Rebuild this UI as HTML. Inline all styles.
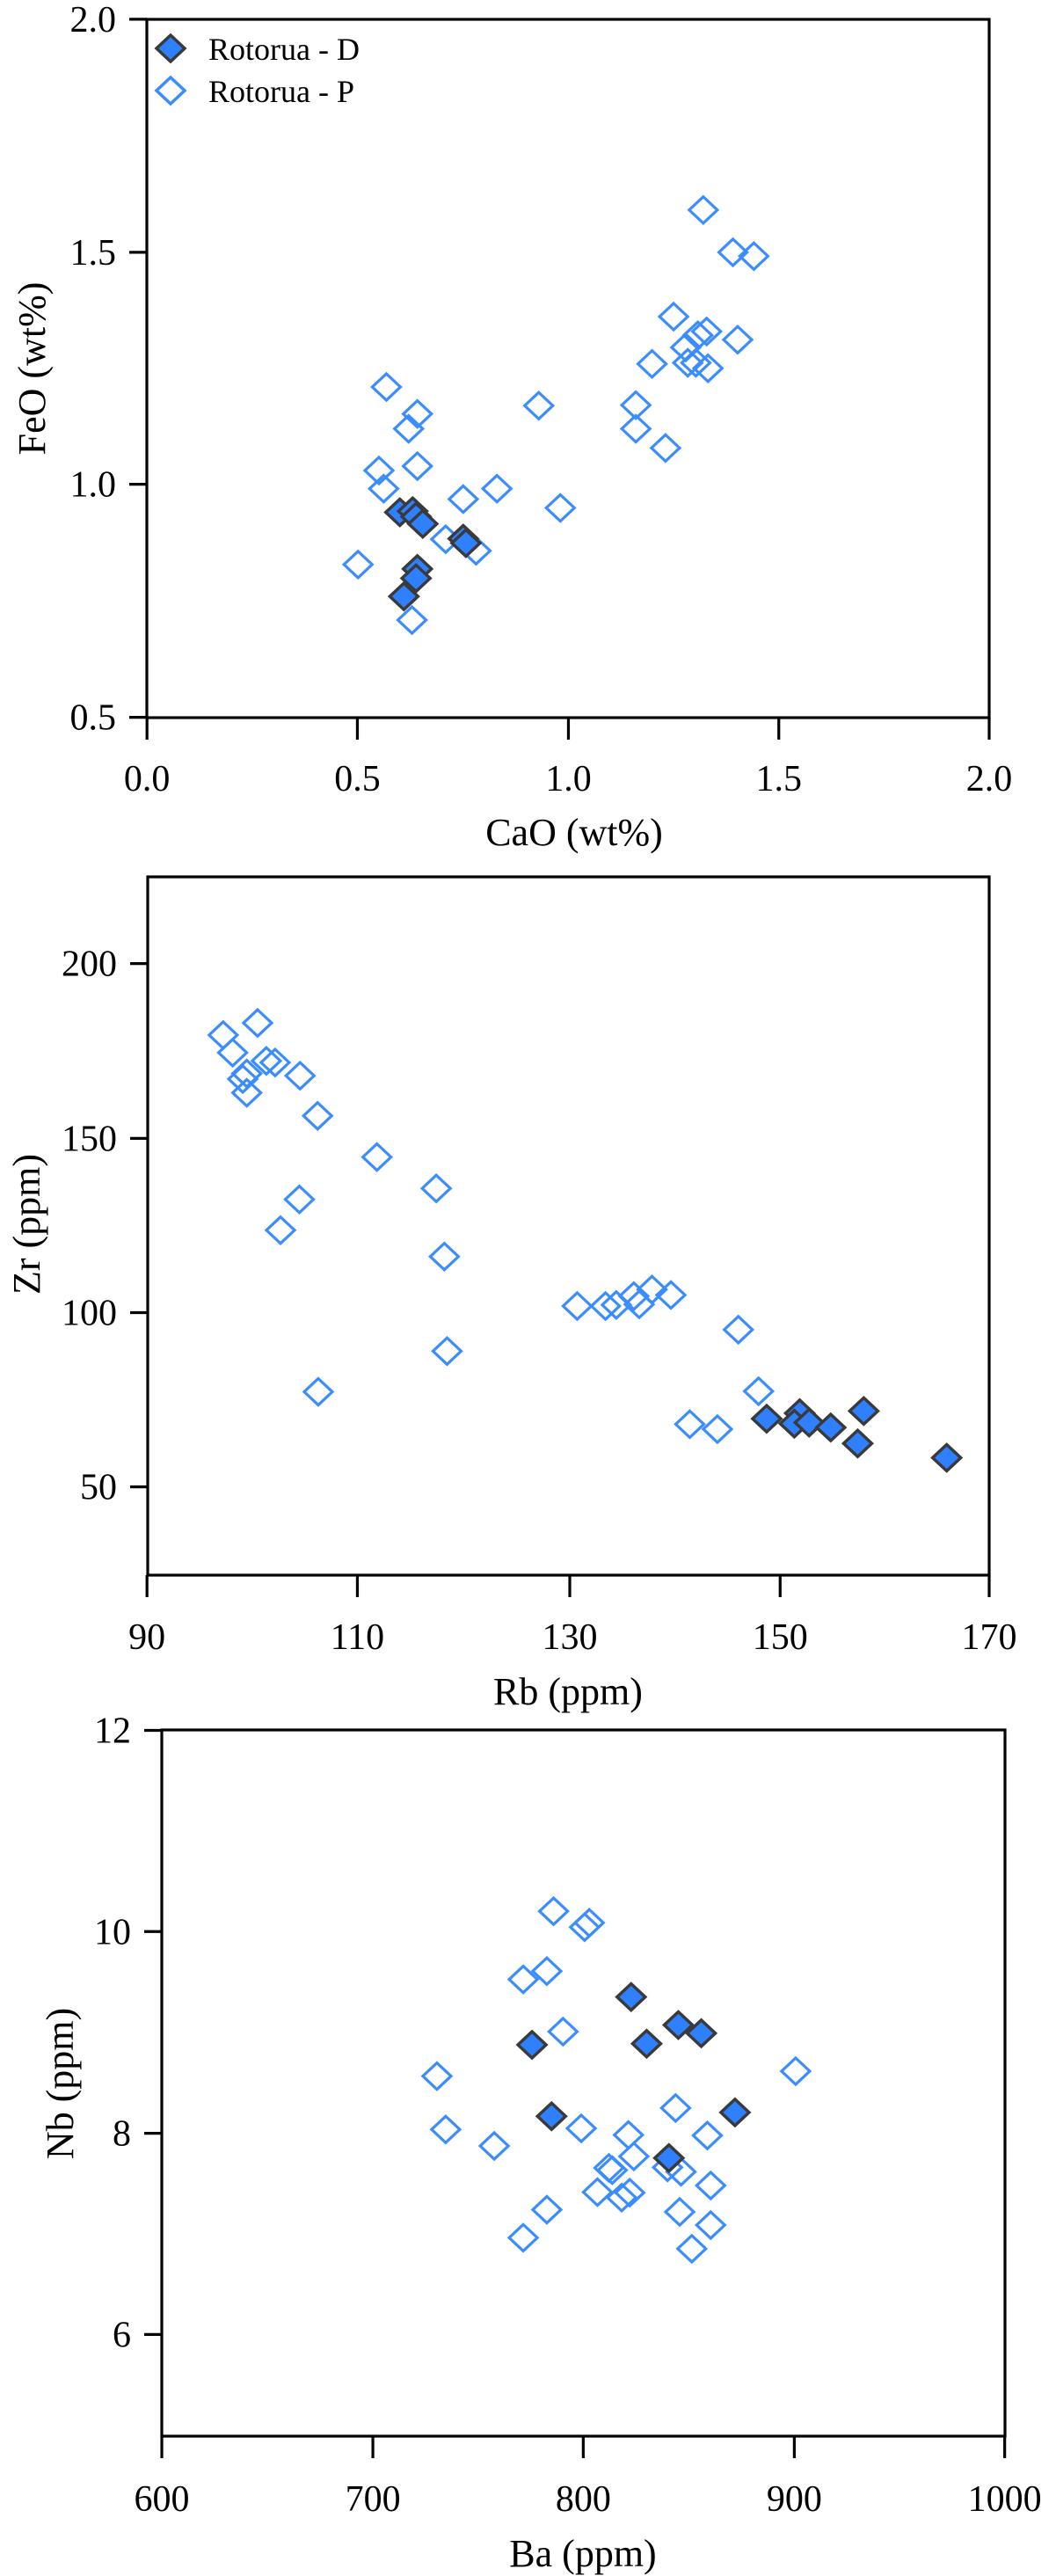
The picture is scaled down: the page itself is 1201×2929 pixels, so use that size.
<!DOCTYPE html>
<html><head><meta charset="utf-8">
<style>
html,body{margin:0;padding:0;background:#fff;}
svg{display:block;}
svg text{font-family:"Liberation Serif","Times New Roman","DejaVu Serif","Noto Serif CJK SC",serif !important;fill:#000;}
</style></head>
<body>
<svg id="s" width="1201" height="2929" viewBox="0 0 1201 2929" xmlns="http://www.w3.org/2000/svg">
<g id="g"></g>
<g>
<path d="M194,40 L210,55 L194,70 L178,55 Z" fill="#2f80ff" stroke="#3a3a3a" stroke-width="3.5" stroke-linejoin="miter"/>
<path d="M194,88 L210,103 L194,118 L178,103 Z" fill="#fff" stroke="#3a8cff" stroke-width="3.5"/>
<text x="237" y="68" font-size="36">Rotorua - D</text>
<text x="237" y="116" font-size="36">Rotorua - P</text>
</g>
</svg>
<script>
var NS="http://www.w3.org/2000/svg",G=document.getElementById("g");
function el(t,a,txt){var e=document.createElementNS(NS,t);for(var k in a)e.setAttribute(k,a[k]);if(txt!=null){e.textContent=txt;}G.appendChild(e);return e;}
var SX=1.304,SY=1.6;
function panel(o){
 el("rect",{x:o.l,y:o.t,width:o.r-o.l,height:o.b-o.t,fill:"none",stroke:"#000","stroke-width":3.2});
 o.yt.forEach(function(t){var y=o.off+t[1]/SY;
  el("line",{x1:o.l-20,y1:y,x2:o.l,y2:y,stroke:"#000","stroke-width":3.2});
  el("text",{x:o.l-35,y:y+14,"font-size":42,"text-anchor":"end"},t[0]);});
 o.xt.forEach(function(t){var x=t[1]/SX;
  el("line",{x1:x,y1:o.b,x2:x,y2:o.b+25,stroke:"#000","stroke-width":3.2});
  el("text",{x:x,y:o.xlb,"font-size":42,"text-anchor":"middle"},t[0]);});
 el("text",{x:o.xtx,y:o.xty,"font-size":44,"text-anchor":"middle"},o.xl);
 el("text",{x:0,y:0,"font-size":44,"text-anchor":"middle",transform:"translate("+o.ytx+","+o.yty+") rotate(-90)"},o.yl);
 o.P.forEach(function(p){var x=p[0]/SX,y=o.off+p[1]/SY;
  el("path",{d:"M"+x+","+(y-15)+" L"+(x+16)+","+y+" L"+x+","+(y+15)+" L"+(x-16)+","+y+" Z",fill:"none",stroke:"#3a8cff","stroke-width":3.2});});
 o.D.forEach(function(p){var x=p[0]/SX,y=o.off+p[1]/SY;
  el("path",{d:"M"+x+","+(y-15)+" L"+(x+16)+","+y+" L"+x+","+(y+15)+" L"+(x-16)+","+y+" Z",fill:"#2f80ff",stroke:"#3a3a3a","stroke-width":3.5});});
}
panel({off:0,l:167,r:1125,t:22,b:816,
 yt:[["2.0",35],["1.5",459],["1.0",881],["0.5",1305]],
 xt:[["0.0",218],["0.5",530],["1.0",843],["1.5",1155],["2.0",1467]],
 xlb:899,xl:"CaO (wt%)",xtx:653,xty:961,yl:"FeO (wt%)",ytx:51,yty:419,
 P:[[1043,382],[1087,459],[1118,466],[999,576],[1048,603],[1035,610],[1017,632],[1094,618],[967,662],[1020,660],[1032,660],[1050,670],[943,737],[943,780],[987,815],[573,704],[619,753],[606,780],[799,738],[562,856],[569,889],[619,848],[687,908],[737,889],[831,924],[661,981],[706,1002],[531,1027],[611,1128]],
 D:[[593,932],[612,930],[617,940],[627,953],[687,980],[691,988],[619,1035],[617,1052],[599,1085]]});
panel({off:980,l:168,r:1125,t:997,b:1791,
 yt:[["200",185],["150",503],["100",820],["50",1137]],
 xt:[["90",218],["110",530],["130",845],["150",1157],["170",1467]],
 xlb:1875,xl:"Rb (ppm)",xtx:646,xty:1938,yl:"Zr (ppm)",ytx:45,yty:1392,
 P:[[331,315],[345,347],[360,395],[366,385],[366,420],[382,293],[395,362],[408,365],[445,389],[471,462],[559,537],[647,594],[444,614],[416,670],[659,718],[663,890],[472,964],[856,808],[898,808],[914,806],[940,790],[948,805],[967,778],[995,788],[1095,851],[1125,963],[1023,1023],[1064,1032]],
 D:[[1137,1013],[1186,1003],[1178,1022],[1200,1020],[1232,1029],[1281,999],[1272,1058],[1404,1084]]});
panel({off:1960,l:184,r:1143,t:1967,b:2770,
 yt:[["12",12],["10",378],["8",745],["6",1111]],
 xt:[["600",240],["700",553],["800",865],["900",1178],["1000",1490]],
 xlb:2855,xl:"Ba (ppm)",xtx:663,xty:2918,yl:"Nb (ppm)",ytx:83,yty:2369,
 P:[[821,341],[867,370],[874,362],[776,465],[811,450],[835,560],[648,641],[1180,632],[661,738],[733,768],[862,736],[932,748],[1002,699],[1049,749],[940,787],[903,808],[908,812],[990,807],[1010,815],[886,852],[922,862],[934,853],[1054,840],[811,884],[1008,888],[1054,912],[776,935],[1026,955]],
 D:[[936,497],[1006,548],[1040,563],[959,582],[789,584],[818,714],[1090,707],[992,790]]});
</script>
</body></html>
